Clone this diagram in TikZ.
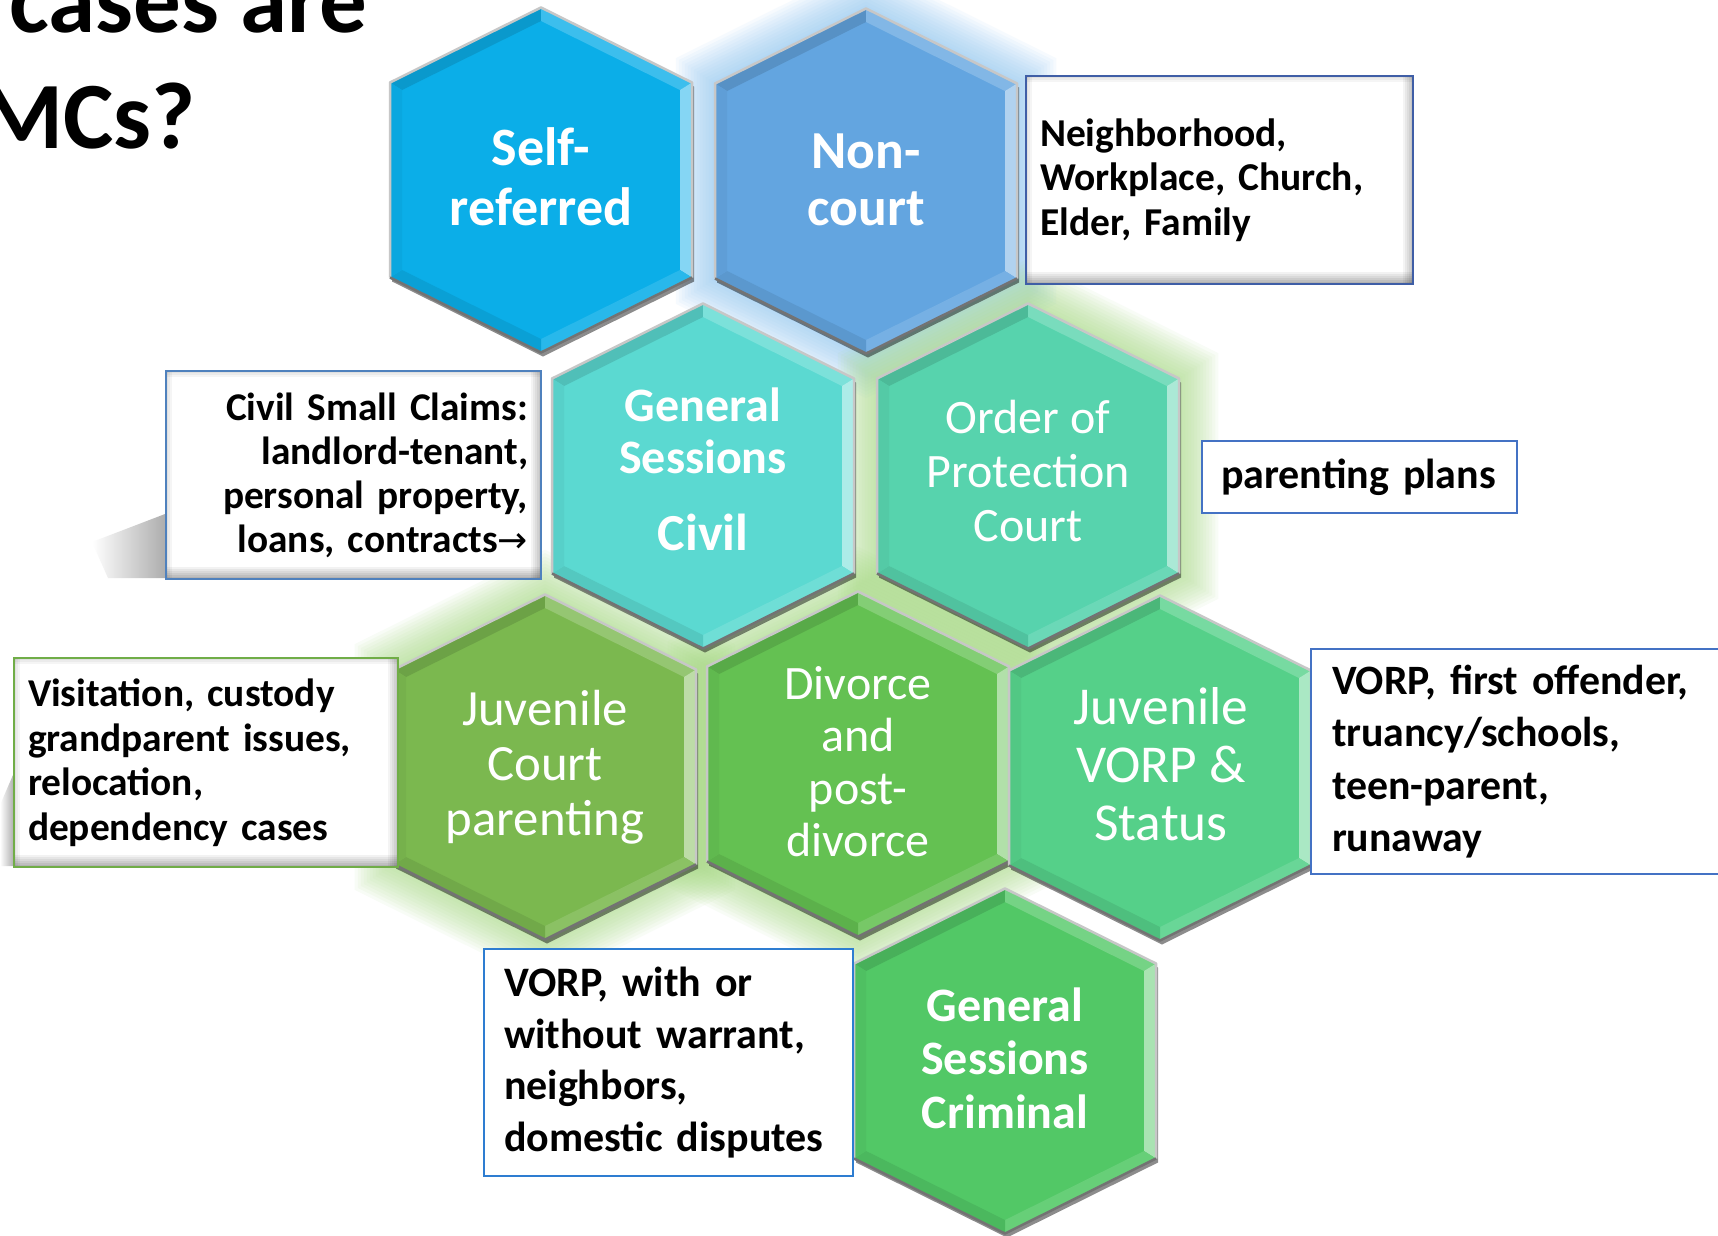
\documentclass[tikz,border=0pt]{standalone}
\usepackage{fontspec}
\setmainfont{Carlito}
\newfontfamily\arrowfont{DejaVu Sans}
\definecolor{cSelf}{HTML}{0BAEE8}
\definecolor{cNon}{HTML}{63A5E0}
\definecolor{cCivil}{HTML}{5BD9D1}
\definecolor{cOrder}{HTML}{57D3AD}
\definecolor{cJuvP}{HTML}{7BB84F}
\definecolor{cDiv}{HTML}{64C152}
\definecolor{cJuvV}{HTML}{55D089}
\definecolor{cCrim}{HTML}{52C866}
\definecolor{gBlue}{HTML}{8CC6F4}
\definecolor{gGreen}{HTML}{A8DC84}
\definecolor{bBlue}{HTML}{4472C4}
\definecolor{bDark}{HTML}{3F5EA6}
\definecolor{bGreen}{HTML}{70AD47}
\definecolor{bMid}{HTML}{4F81BD}
\definecolor{bBright}{HTML}{2E7DD1}
\tikzset{
 hexa/.pic={\path[pic actions] (0,-172.5) -- (151,-97.5) -- (151,97.5) -- (0,172.5) -- (-151,97.5) -- (-151,-97.5) -- cycle;},
 hexlabel/.style={text=white, align=center, inner sep=0pt},
 infobox/.style={draw=#1, line width=2pt, fill=white, anchor=north west, inner ysep=0pt, align=left},
 bevel/.style={path picture={
   \foreach \i in {1,...,6}{
     \fill[black, opacity=0.05*\i] ([yshift={(14-2*\i)*1pt}]path picture bounding box.south west) rectangle ([yshift={(12-2*\i)*1pt}]path picture bounding box.south east);
     \fill[black, opacity=0.045*\i] ([xshift={(2*\i-12)*1pt}]path picture bounding box.north east) rectangle ([xshift={(2*\i-10)*1pt}]path picture bounding box.south east);
   }
   \foreach \i in {1,2,3}{
     \fill[black, opacity=0.04*\i] ([yshift={(2*\i-6)*1pt}]path picture bounding box.north west) rectangle ([yshift={(2*\i-8)*1pt}]path picture bounding box.north east);
     \fill[black, opacity=0.04*\i] ([xshift={(6-2*\i)*1pt}]path picture bounding box.north west) rectangle ([xshift={(8-2*\i)*1pt}]path picture bounding box.south west);
   }
 }},
}
\newcommand\hexglow[2]{\foreach \s in {1.26,1.24,...,1.01}{\pic[fill=#2, fill opacity=0.07, scale=\s] at #1 {hexa};}}
\newcommand\hexcell[3]{%
\begin{scope}[shift={(#1,#2)}]
 \fill[black, opacity=0.45] (2,-168.5) -- (153,-93.5) -- (153,101.5) -- (2,176.5) -- (-149,101.5) -- (-149,-93.5) -- cycle;
 \fill[#3] (0,-172.5) -- (151,-97.5) -- (151,97.5) -- (0,172.5) -- (-151,97.5) -- (-151,-97.5) -- cycle;
 \fill[#3!88!black] (-151,-97.5) -- (0,-172.5) -- (0,-159) -- (-139,-90) -- cycle;
 \fill[#3!80!white] (0,-172.5) -- (151,-97.5) -- (139,-90) -- (0,-159) -- cycle;
 \fill[#3!50!white] (151,-97.5) -- (151,97.5) -- (139,90) -- (139,-90) -- cycle;
 \fill[#3!88!white] (151,97.5) -- (0,172.5) -- (0,159) -- (139,90) -- cycle;
 \fill[#3!92!black] (0,172.5) -- (-151,97.5) -- (-139,90) -- (0,159) -- cycle;
 \fill[#3!96!black] (-151,97.5) -- (-151,-97.5) -- (-139,-90) -- (-139,90) -- cycle;
 \draw[line width=2.5pt, black!22, line join=round] (-151,97.5) -- (-151,-97.5) -- (0,-172.5) -- (151,-97.5) -- (151,97.5);
 \draw[line width=2.5pt, black!55, line join=round] (151,97.5) -- (0,172.5) -- (-151,97.5);
\end{scope}}
\begin{document}
\begin{tikzpicture}[x=1pt,y=-1pt]
\useasboundingbox (0,0) rectangle (1718,1235);
\clip (0,0) rectangle (1718,1235);
\fill[white] (0,0) rectangle (1718,1235);
% glows
\hexglow{(866,181)}{gBlue}
\hexglow{(1028,476)}{gGreen}
\hexglow{(545,767)}{gGreen}
\hexglow{(858,764)}{gGreen}
% hexagons
\hexcell{541}{180}{cSelf}
\hexcell{866}{181}{cNon}
\hexcell{703}{476}{cCivil}
\hexcell{1028}{476}{cOrder}
\hexcell{545}{767}{cJuvP}
\hexcell{858}{764}{cDiv}
\hexcell{1160}{768}{cJuvV}
\hexcell{1005}{1061}{cCrim}
% hexagon labels
\node[hexlabel, font=\fontsize{54}{60}\selectfont\bfseries] (self) at (541,176.5) {Self-\\referred};
\node[hexlabel, font=\fontsize{53.5}{57}\selectfont\bfseries] (noncourt) at (866,179.5) {Non-\\court};
\node[hexlabel, font=\fontsize{48}{52}\selectfont\bfseries] (gscivil) at (703,469) {General\\Sessions\\[25pt]{\fontsize{52}{52}\selectfont Civil}};
\node[hexlabel, font=\fontsize{48}{54}\selectfont] (order) at (1028,471) {Order of\\Protection\\Court};
\node[hexlabel, font=\fontsize{50.8}{55}\selectfont] (juvpar) at (545,767) {Juvenile\\Court\\parenting};
\node[hexlabel, font=\fontsize{48}{52.5}\selectfont] (divorce) at (858,761.5) {Divorce\\and\\post-\\divorce};
\node[hexlabel, font=\fontsize{53.3}{58}\selectfont] (juvvorp) at (1161,764.5) {Juvenile\\VORP \&\\Status};
\node[hexlabel, font=\fontsize{48}{53.5}\selectfont\bfseries] (gscrim) at (1005,1058) {General\\Sessions\\Criminal};
% shadows of boxes
\shade[left color=white, right color=black!32] (92,542) -- (165,514) -- (165,578) -- (108,578) -- cycle;
\shade[left color=white, right color=black!30] (0,805) -- (13,775) -- (13,866) -- (0,866) -- cycle;
% boxes
\node[infobox=bDark, bevel, minimum width=387pt, minimum height=208pt, text width=359pt, inner xsep=14pt, font=\fontsize{39.5}{44.5}\selectfont\bfseries] (nbox) at (1025,75) {Neighborhood,\\Workplace, Church,\\Elder, Family};
\node[infobox=bMid, bevel, minimum width=375pt, minimum height=208pt, text width=349pt, inner xsep=13pt, align=right, font=\fontsize{39.3}{44}\selectfont\bfseries] (cbox) at (165,370) {Civil Small Claims:\\landlord-tenant,\\personal property,\\loans, contracts{\arrowfont\mdseries\fontsize{36}{44}\selectfont →}};
\node[infobox=bBlue, minimum width=315pt, minimum height=72pt, text width=277pt, inner xsep=19pt, font=\fontsize{42}{46}\selectfont\bfseries] (pbox) at (1201,440) {parenting plans};
\node[infobox=bGreen, bevel, minimum width=384pt, minimum height=209pt, text width=356pt, inner xsep=14pt, font=\fontsize{39.4}{44.5}\selectfont\bfseries] (vbox) at (13,657) {Visitation, custody\\grandparent issues,\\relocation,\\dependency cases};
\node[infobox=bBlue, minimum width=430pt, minimum height=225pt, text width=388pt, inner xsep=21pt, font=\fontsize{41.8}{52.5}\selectfont\bfseries] (obox) at (1310,648) {VORP, first offender,\\truancy/schools,\\teen-parent,\\runaway};
\node[infobox=bBright, minimum width=369pt, minimum height=227pt, text width=329pt, inner xsep=20pt, font=\fontsize{42}{51.8}\selectfont\bfseries] (wbox) at (483,948) {VORP, with or\\without warrant,\\neighbors,\\domestic disputes};
% title fragments
\node[anchor=base west, inner sep=0pt, font=\fontsize{95}{114}\selectfont\bfseries] (ttl1) at (9,32) {cases are};
\node[anchor=base west, inner sep=0pt, font=\fontsize{95}{114}\selectfont\bfseries] (ttl2) at (-19.5,148) {MCs?};
\end{tikzpicture}
\end{document}
